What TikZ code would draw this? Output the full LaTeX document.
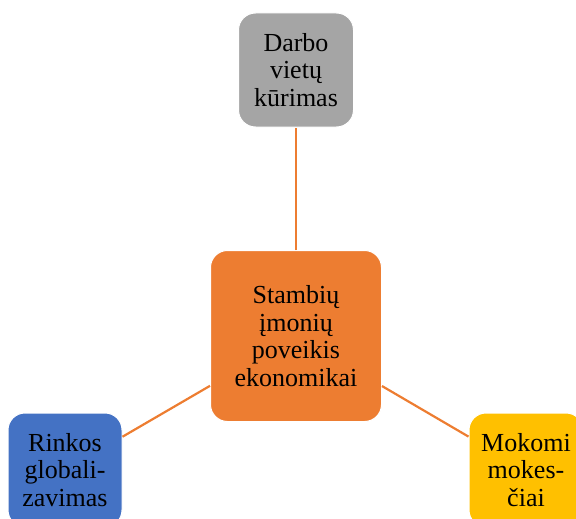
\documentclass[tikz,border=0pt]{standalone}
\usepackage{fontspec}
\setmainfont{Liberation Serif}
\definecolor{cgray}{HTML}{A5A5A5}
\definecolor{corange}{HTML}{ED7D31}
\definecolor{cblue}{HTML}{4472C4}
\definecolor{cgold}{HTML}{FFC000}
\begin{document}
\begin{tikzpicture}[x=1pt,y=-1pt,
  box/.style={draw=white, line width=1pt, rounded corners=17pt, align=center,
    font=\fontsize{26}{27.5}\selectfont, text=black, inner sep=0pt},
  link/.style={color=corange, line width=2.2pt}]
\useasboundingbox (0,0) rectangle (576,519);
\clip (0,0) rectangle (576,519);
\node[box, fill=cgray, minimum width=115pt, minimum height=114pt] (top) at (296,70) {Darbo\\vietų\\kūrimas};
\node[box, fill=corange, minimum width=171pt, minimum height=171pt] (mid) at (296,336) {Stambių\\įmonių\\poveikis\\ekonomikai};
\node[box, fill=cblue, minimum width=114pt, minimum height=114pt] (left) at (65,470) {Rinkos\\globali-\\zavimas};
\node[box, fill=cgold, minimum width=114pt, minimum height=114pt] (right) at (526,470) {Mokomi\\mokes-\\čiai};
\draw[link] (mid) -- (top);
\draw[link] (mid) -- (left);
\draw[link] (mid) -- (right);
\end{tikzpicture}
\end{document}
